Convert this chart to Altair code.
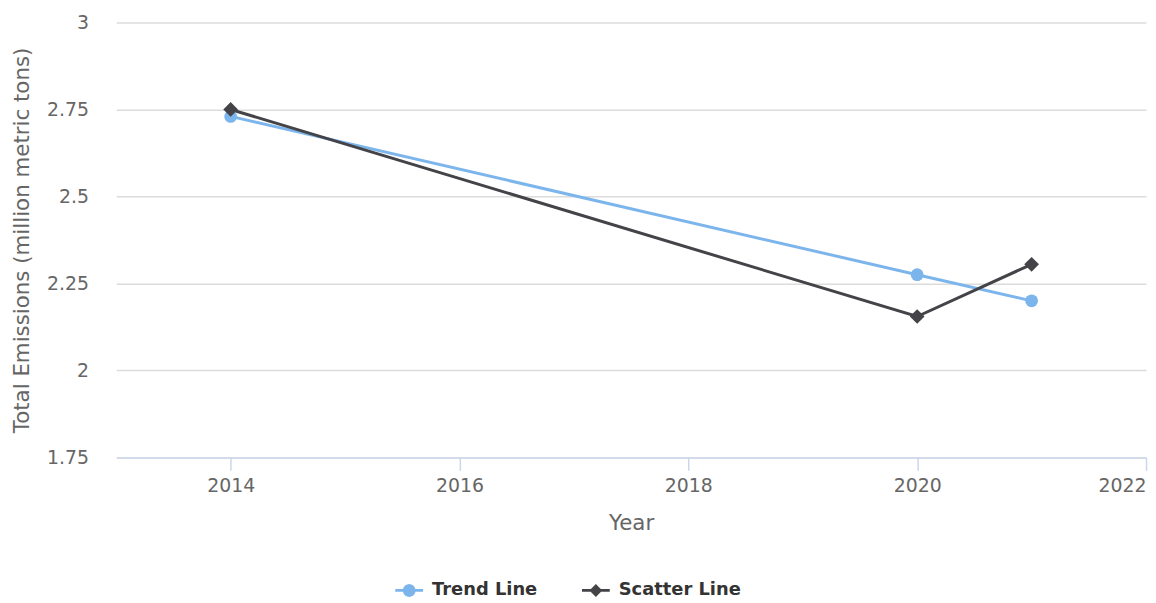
import math
import altair as alt
import pandas as pd

years = [2014, 2020, 2021]
trend_values = [2.73, 2.275, 2.20]
scatter_values = [2.75, 2.155, 2.305]
series_names = ["Trend Line", "Scatter Line"]
series_colors = ["#7cb5ec", "#434348"]
x_ticks = [2014, 2016, 2018, 2020, 2022]
y_ticks = [1.75, 2, 2.25, 2.5, 2.75, 3]


def circle_path(r, n=20):
    pts = [(r * math.cos(2 * math.pi * k / n), r * math.sin(2 * math.pi * k / n)) for k in range(n)]
    return "M" + "L".join(f"{px:.3f},{py:.3f}" for px, py in pts) + "Z"


LINE_BAR = "M-1,-0.1L1,-0.1L1,0.1L-1,0.1Z"
legend_shapes = [
    LINE_BAR + circle_path(0.46),
    LINE_BAR + "M-0.46,0L0,-0.46L0.46,0L0,0.46Z",
]

rows = []
for yr, t, s in zip(years, trend_values, scatter_values):
    rows.append({"Year": yr, "Series": "Trend Line", "Value": t})
    rows.append({"Year": yr, "Series": "Scatter Line", "Value": s})
df = pd.DataFrame(rows)

FONT = "DejaVu Sans"

x = alt.X(
    "Year:Q",
    scale=alt.Scale(domain=[2013, 2022], nice=False, zero=False),
    axis=alt.Axis(
        values=x_ticks, format="d", title="Year", grid=False,
        domainColor="#ccd6eb", domainWidth=1.5, tickColor="#ccd6eb", tickWidth=1.5,
        tickSize=13, labelPadding=6, labelFlush=True, zindex=1,
        labelFont=FONT, labelFontSize=19, labelColor="#666666",
        titleFont=FONT, titleFontSize=21.5, titleFontWeight="normal",
        titleColor="#666666", titlePadding=18,
    ),
)
y = alt.Y(
    "Value:Q",
    scale=alt.Scale(domain=[1.75, 3], nice=False, zero=False),
    axis=alt.Axis(
        values=y_ticks, format=".2~f", title="Total Emissions (million metric tons)",
        domain=False, ticks=False, grid=True, gridColor="#dcdcdc", gridWidth=1.5,
        labelPadding=28, zindex=0,
        labelFont=FONT, labelFontSize=19, labelColor="#666666",
        titleFont=FONT, titleFontSize=21.5, titleFontWeight="normal",
        titleColor="#666666", titlePadding=13,
    ),
)

leg = alt.Legend(
    title=None, orient="none", legendX=280, legendY=557, direction="horizontal",
    labelFont=FONT, labelFontSize=18, labelFontWeight="bold", labelColor="#333333",
    symbolSize=784, labelOffset=8, columnPadding=43, padding=0,
)

color_scale = alt.Scale(domain=series_names, range=series_colors)
color_legend = alt.Color("Series:N", scale=color_scale, legend=leg)

base = alt.Chart(df)
trend_data = base.transform_filter(alt.datum.Series == "Trend Line")
scatter_data = base.transform_filter(alt.datum.Series == "Scatter Line")

trend_line = trend_data.mark_line(strokeWidth=3, color=series_colors[0]).encode(x=x, y=y)
scatter_line = scatter_data.mark_line(strokeWidth=3, color=series_colors[1]).encode(x=x, y=y)

trend_pts = trend_data.mark_point(
    filled=True, opacity=1, shape="circle", size=165
).encode(x=x, y=y, color=color_legend)

scatter_pts = scatter_data.mark_point(
    filled=True, opacity=1, shape="diamond", size=220
).encode(x=x, y=y, color=color_legend)

legend_layer = base.transform_filter("false").mark_point(filled=True, opacity=1).encode(
    color=color_legend,
    shape=alt.Shape("Series:N", scale=alt.Scale(domain=series_names, range=legend_shapes), legend=leg),
)

chart = (
    alt.layer(trend_line, scatter_line, trend_pts, scatter_pts, legend_layer)
    .properties(
        width=1037,
        height=438,
        autosize=alt.AutoSizeParams(type="none"),
        padding={"left": 109, "top": 12.5, "right": 2, "bottom": 140},
    )
    .configure_view(stroke=None)
)

chart.save("out.html", embed_options={"renderer": "svg", "actions": False})
